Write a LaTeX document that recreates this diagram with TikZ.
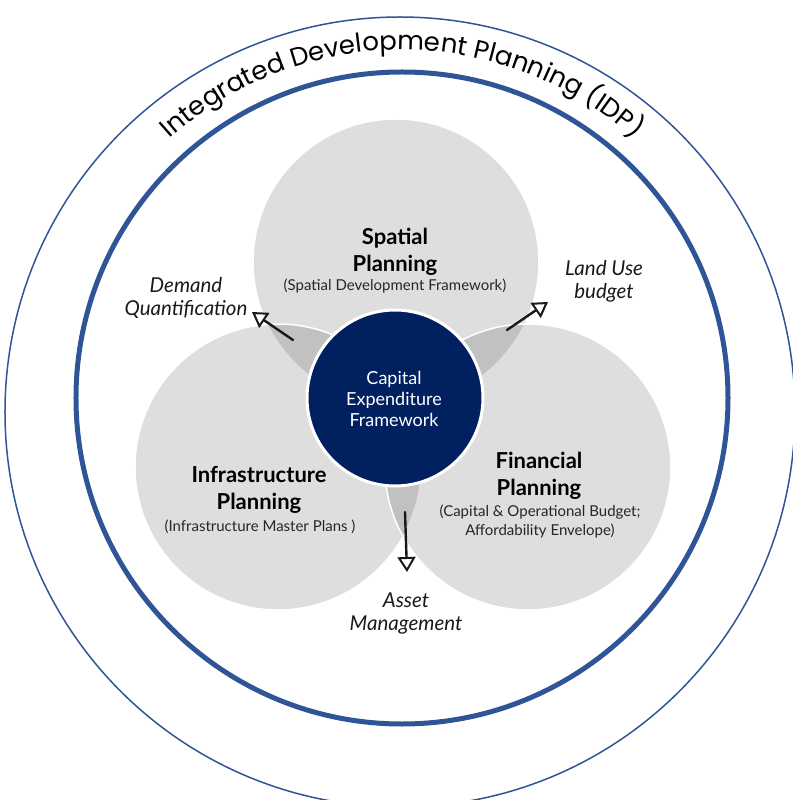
\documentclass[tikz,border=0pt]{standalone}
\usepackage{fontspec}
\setmainfont{Lato}
\newfontfamily\titlefont{Poppins}
\usetikzlibrary{arrows.meta,positioning,decorations.text}
\definecolor{idpblue}{RGB}{47,85,151}
\definecolor{capexnavy}{RGB}{0,32,96}
\definecolor{arrowink}{RGB}{25,25,25}
\newcommand{\idpfont}{\titlefont\fontsize{26}{30}\selectfont}

\begin{document}
\begin{tikzpicture}[x=1pt, y=1pt,
    venn/.style={circle, draw=white, line width=1.5pt, fill=black,
                 fill opacity=0.13, minimum size=286pt, inner sep=0pt},
    core/.style={circle, draw=white, line width=3pt, fill=capexnavy,
                 minimum size=176pt, inner sep=0pt},
    head/.style={font=\bfseries\fontsize{22}{27}\selectfont, align=center,
                 text=black},
    sub/.style={font=\fontsize{15}{19}\selectfont, align=center,
                text=black!85},
    outcome/.style={font=\itshape\fontsize{20.5}{23}\selectfont,
                    align=center, text=black!90},
    arr/.style={-{Triangle[open, length=15pt, width=18pt, line width=2pt]},
                line width=2.4pt, draw=arrowink, line cap=round},
  ]
  \useasboundingbox (-402,-402) rectangle (390,398);

  % Rings
  \node[circle, draw=idpblue, line width=1.5pt, minimum size=790pt,
        inner sep=0pt] (outer) at (-2,-14) {};
  \node[circle, draw=idpblue, line width=5pt, minimum size=652pt,
        inner sep=0pt] (ring) at (0,0) {};
  \path[decorate, decoration={text along path, text align=center,
        text={|\idpfont|Integrated Development Planning (IDP)}}]
    (165:348) arc[start angle=165, end angle=15, radius=348];

  % Venn circles
  \node[venn] (spatial) at (-6,136) {};
  \node[venn] (infra) at (-124,-69) {};
  \node[venn] (fin) at (126,-69) {};
  \node[core] (capex) at (-7,0) {};

  % Circle labels
  \node[head] (spatialT) at (-7,146) {Spatial\\Planning};
  \node[sub] (spatialS) at (-7,112) {(Spatial Development Framework)};
  \node[head] (infraT) at (-143,-92) {Infrastructure\\Planning};
  \node[sub] (infraS) at (-142,-129) {(Infrastructure Master Plans )};
  \node[head] (finT) at (137,-78) {Financial\\Planning};
  \node[sub] (finS) at (138,-123)
    {(Capital \& Operational Budget;\\Affordability Envelope)};
  \node[font=\fontsize{18}{21}\selectfont, text=white, align=center]
    (capexT) at (-8,-1) {Capital\\Expenditure\\Framework};

  % Outcomes
  \node[outcome] (demand) at (-216,100) {Demand\\Quantification};
  \node[outcome] (landuse) at (202,117) {Land Use\\budget};
  \node[outcome] (asset) at (4,-216) {Asset\\Management};

  \coordinate (demandFrom) at (-109,58);
  \coordinate (demandTo) at (-150,86);
  \coordinate (landFrom) at (105,68);
  \coordinate (landTo) at (146,96);
  \coordinate (assetFrom) at (3,-114);
  \coordinate (assetTo) at (5,-174);
  \draw[arr] (demandFrom) -- (demandTo);
  \draw[arr] (landFrom) -- (landTo);
  \draw[arr] (assetFrom) -- (assetTo);
\end{tikzpicture}
\end{document}
